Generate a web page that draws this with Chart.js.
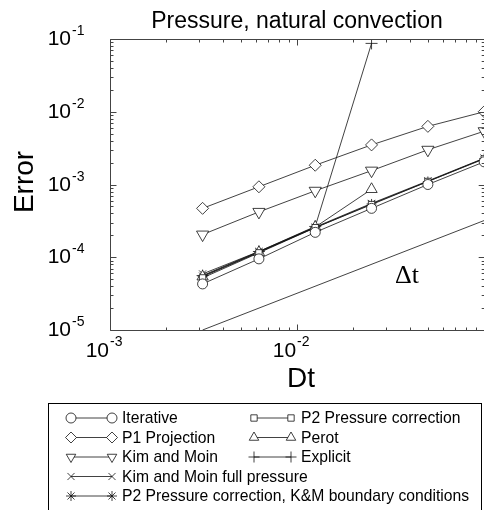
<!DOCTYPE html>
<html lang="en">
<head>
<meta charset="UTF-8">
<title>Pressure, natural convection</title>
<script src="https://cdn.jsdelivr.net/npm/chart.js"></script>
<style>
    html, body { margin: 0; padding: 0; background: #fff; overflow: hidden; }
    #wrap { width: 484px; height: 510px; overflow: hidden; }
</style>
</head>
<body>
<div id="wrap"><canvas id="chart" width="492" height="510"></canvas></div>
<script>
// time steps (x) and error for each scheme (y)
const dt = [0.003125, 0.00625, 0.0125, 0.025, 0.05, 0.1];
const iterative = [4.3e-5, 9.5e-5, 2.2e-4, 4.7e-4, 1.0e-3, 2.05e-3];
const p2PressureCorr = [5.2e-5, 1.15e-4, 2.55e-4, 5.3e-4, 1.1e-3, 2.25e-3];
const p1Projection = [4.7e-4, 9.3e-4, 1.84e-3, 3.5e-3, 6.3e-3, 1.0e-2];
const perot = [5.4e-5, 1.17e-4, 2.6e-4, 8.6e-4];
const kimMoin = [2.05e-4, 4.2e-4, 8.2e-4, 1.55e-3, 3.0e-3, 5.4e-3];
const explicit = [5.6e-5, 1.2e-4, 2.65e-4, 8.7e-2];
const kimMoinFull = [5.9e-5, 1.2e-4, 2.6e-4, 5.5e-4, 1.12e-3, 2.3e-3];
const p2KMBoundary = [5.5e-5, 1.18e-4, 2.55e-4, 5.4e-4, 1.1e-3, 2.28e-3];
// first order reference slope
const slopeDt = [0.003125, 0.1];
const slopeErr = [1e-5, 3.2e-4];
// decade tick labels
const xTickExp = [-3, -2];
const yTickExp = [-5, -4, -3, -2, -1];

const SANS = "'Liberation Sans', Arial, sans-serif";
const INK = '#111';

const pts = (xs, ys) => ys.map((v, i) => ({ x: xs[i], y: v }));

function series(label, values, style, radius, rotation) {
    return {
        label: label,
        data: pts(dt, values),
        borderColor: INK,
        borderWidth: 0.8,
        pointStyle: style,
        pointRadius: radius,
        pointRotation: rotation || 0,
        pointBorderColor: INK,
        pointBorderWidth: 0.8,
        pointBackgroundColor: '#fff'
    };
}

const datasets = [
    {
        label: 'slope',
        data: pts(slopeDt, slopeErr),
        borderColor: INK,
        borderWidth: 0.8,
        pointRadius: 0
    },
    series('Iterative', iterative, 'circle', 5),
    series('P1 Projection', p1Projection, 'rectRot', 6),
    series('Kim and Moin', kimMoin, 'triangle', 7, 180),
    series('P2 Pressure correction', p2PressureCorr, 'rect', 4.5),
    series('Perot', perot, 'triangle', 6.5),
    series('Explicit', explicit, 'cross', 6),
    series('Kim and Moin full pressure', kimMoinFull, 'crossRot', 5),
    series('P2 Pressure correction, K&M boundary conditions', p2KMBoundary, 'star', 5)
];

// legend layout: [dataset index, column, row]
const legendItems = [[1, 0, 0], [2, 0, 1], [3, 0, 2], [7, 0, 3], [8, 0, 4], [4, 1, 0], [5, 1, 1], [6, 1, 2]];

function label10(ctx, exp, xBase, yBase, xSup, ySup, alignBase) {
    ctx.font = '21px ' + SANS;
    ctx.textAlign = alignBase;
    ctx.fillText('10', xBase, yBase);
    ctx.font = '14px ' + SANS;
    ctx.textAlign = 'left';
    ctx.fillText('-' + Math.abs(exp), xSup, ySup);
}

const framePlugin = {
    id: 'framePlugin',
    afterDatasetsDraw(chart) {
        const { ctx, chartArea: a, scales: { x, y } } = chart;
        const L = a.left + 0.5, R = a.right + 0.5, T = a.top + 0.5, B = a.bottom + 0.5;
        ctx.save();
        ctx.lineWidth = 1;
        ctx.strokeStyle = '#444';

        // tick marks, pointing inward
        ctx.beginPath();
        for (let k = -3; k <= -1; k++) {
            for (let m = 1; m <= 9; m++) {
                const v = m * Math.pow(10, k);
                if (v > x.max * 1.0001) continue;
                const px = Math.round(x.getPixelForValue(v)) + 0.5;
                const len = m === 1 ? 6 : 3;
                ctx.moveTo(px, B); ctx.lineTo(px, B - len);
                ctx.moveTo(px, T); ctx.lineTo(px, T + len);
            }
        }
        for (let k = -5; k <= -1; k++) {
            for (let m = 1; m <= 9; m++) {
                const v = m * Math.pow(10, k);
                if (v > y.max * 1.0001) continue;
                const py = Math.round(y.getPixelForValue(v)) + 0.5;
                const len = m === 1 ? 6 : 3;
                ctx.moveTo(L, py); ctx.lineTo(L + len, py);
                ctx.moveTo(R, py); ctx.lineTo(R - len, py);
            }
        }
        ctx.stroke();

        // axis lines
        ctx.beginPath();
        ctx.moveTo(L, T); ctx.lineTo(L, B); ctx.lineTo(R, B);
        ctx.moveTo(L, T); ctx.lineTo(R, T);
        ctx.stroke();

        // tick labels
        ctx.fillStyle = '#000';
        ctx.textBaseline = 'alphabetic';
        xTickExp.forEach(e => {
            const px = x.getPixelForValue(Math.pow(10, e));
            label10(ctx, e, px - 1, a.bottom + 27, px, a.bottom + 16, 'right');
        });
        yTickExp.forEach(e => {
            const py = y.getPixelForValue(Math.pow(10, e));
            label10(ctx, e, 71, py + 6, 72, py - 4, 'right');
        });

        // titles
        ctx.textAlign = 'center';
        ctx.font = '23px ' + SANS;
        ctx.fillText('Pressure, natural convection', 297, 28);
        ctx.font = '28px ' + SANS;
        ctx.fillText('Dt', 301, 387);
        ctx.save();
        ctx.translate(33, 182);
        ctx.rotate(-Math.PI / 2);
        ctx.fillText('Error', 0, 0);
        ctx.restore();

        ctx.textAlign = 'left';
        ctx.font = "26px 'Liberation Serif', 'Times New Roman', serif";
        ctx.fillText('\u0394t', 395, 283);

        // legend box
        ctx.strokeStyle = '#000';
        ctx.strokeRect(48.5, 403.5, 433, 120);
        const cols = [{ x0: 71, x1: 112, tx: 122 }, { x0: 254, x1: 291, tx: 301 }];
        ctx.font = '15.7px ' + SANS;
        ctx.textBaseline = 'middle';
        legendItems.forEach(([di, c, r]) => {
            const ds = chart.data.datasets[di];
            const col = cols[c];
            const cy = 418 + r * 19.5;
            ctx.strokeStyle = INK;
            ctx.lineWidth = 0.8;
            ctx.beginPath();
            ctx.moveTo(col.x0, cy); ctx.lineTo(col.x1, cy);
            ctx.stroke();
            ctx.fillStyle = '#fff';
            [col.x0, col.x1].forEach(px => {
                Chart.helpers.drawPoint(ctx, {
                    pointStyle: ds.pointStyle,
                    radius: Math.min(ds.pointRadius, 5.5),
                    rotation: ds.pointRotation,
                    borderWidth: 0.8
                }, px, cy);
            });
            ctx.fillStyle = '#000';
            ctx.fillText(ds.label, col.tx, cy + 1);
        });
        ctx.restore();
    }
};

new Chart(document.getElementById('chart').getContext('2d'), {
    type: 'line',
    data: { datasets: datasets },
    options: {
        responsive: false,
        animation: false,
        layout: { padding: { left: 110, right: 4, top: 39, bottom: 180 } },
        plugins: { legend: { display: false }, title: { display: false }, tooltip: { enabled: false } },
        scales: {
            x: {
                type: 'logarithmic', min: 1e-3, max: 0.1,
                ticks: { display: false }, grid: { display: false }, border: { display: false },
                afterFit(s) { s.height = 0; }
            },
            y: {
                type: 'logarithmic', min: 1e-5, max: 1e-1,
                ticks: { display: false }, grid: { display: false }, border: { display: false },
                afterFit(s) { s.width = 0; }
            }
        }
    },
    plugins: [framePlugin]
});
</script>
</body>
</html>
